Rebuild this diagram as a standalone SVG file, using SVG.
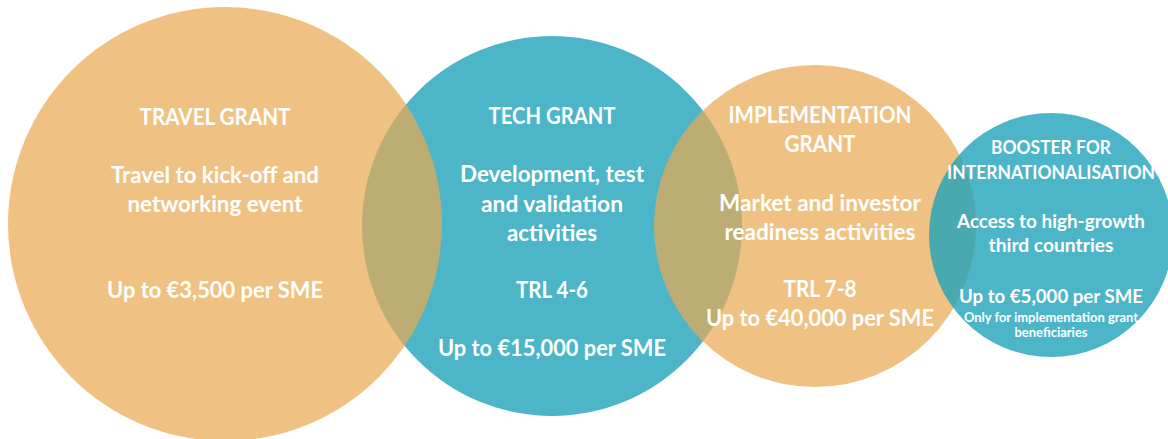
<svg xmlns="http://www.w3.org/2000/svg" width="1168" height="439" viewBox="0 0 1168 439">
<style>
.bg{fill:#FFFFFF}
.blue{fill:#4DB5C8}
.orange{fill:#E8A950;fill-opacity:0.71}
.blue2{fill:#21A3BA;fill-opacity:0.8}
text{font-family:Lato,"Open Sans","Liberation Sans",sans-serif;font-weight:bold;fill:#FFFFFF;text-anchor:middle}
.t{font-size:22px}
.s{font-size:18px}
.xs{font-size:12.5px}
</style>
<rect class="bg" x="0" y="0" width="1168" height="439"/>
<g id="connectors"></g>
<g id="tech-grant">
<circle class="blue" cx="552" cy="226" r="190"/>
<text class="t" x="552" y="124" textLength="127" lengthAdjust="spacingAndGlyphs">TECH GRANT</text>
<text class="t" x="552" y="182" textLength="184" lengthAdjust="spacingAndGlyphs">Development, test</text>
<text class="t" x="552" y="212" textLength="142" lengthAdjust="spacingAndGlyphs">and validation</text>
<text class="t" x="552" y="241" textLength="90" lengthAdjust="spacingAndGlyphs">activities</text>
<text class="t" x="552" y="298" textLength="72" lengthAdjust="spacingAndGlyphs">TRL 4-6</text>
<text class="t" x="552" y="356" textLength="228" lengthAdjust="spacingAndGlyphs">Up to €15,000 per SME</text>
</g>
<g id="travel-grant">
<circle class="orange" cx="225" cy="224" r="217"/>
<text class="t" x="215" y="125" textLength="151" lengthAdjust="spacingAndGlyphs">TRAVEL GRANT</text>
<text class="t" x="215" y="183" textLength="208" lengthAdjust="spacingAndGlyphs">Travel to kick-off and</text>
<text class="t" x="215" y="212" textLength="175" lengthAdjust="spacingAndGlyphs">networking event</text>
<text class="t" x="215" y="298" textLength="216" lengthAdjust="spacingAndGlyphs">Up to €3,500 per SME</text>
</g>
<g id="implementation-grant">
<circle class="orange" cx="815" cy="226" r="161"/>
<text class="t" x="820" y="123" textLength="183" lengthAdjust="spacingAndGlyphs">IMPLEMENTATION</text>
<text class="t" x="820" y="152" textLength="71" lengthAdjust="spacingAndGlyphs">GRANT</text>
<text class="t" x="820" y="211" textLength="202" lengthAdjust="spacingAndGlyphs">Market and investor</text>
<text class="t" x="820" y="240" textLength="191" lengthAdjust="spacingAndGlyphs">readiness activities</text>
<text class="t" x="820" y="297" textLength="73" lengthAdjust="spacingAndGlyphs">TRL 7-8</text>
<text class="t" x="820" y="326" textLength="228" lengthAdjust="spacingAndGlyphs">Up to €40,000 per SME</text>
</g>
<g id="booster-for-internationalisation">
<circle class="blue2" cx="1051" cy="235" r="122"/>
<text class="s" x="1051" y="154" textLength="120" lengthAdjust="spacingAndGlyphs">BOOSTER FOR</text>
<text class="s" x="1051" y="179" textLength="208" lengthAdjust="spacingAndGlyphs">INTERNATIONALISATION</text>
<text class="s" x="1051" y="228" textLength="188" lengthAdjust="spacingAndGlyphs">Access to high-growth</text>
<text class="s" x="1051" y="252" textLength="125" lengthAdjust="spacingAndGlyphs">third countries</text>
<text class="s" x="1051" y="303" textLength="184" lengthAdjust="spacingAndGlyphs">Up to €5,000 per SME</text>
<text class="xs" x="1051" y="322" textLength="174" lengthAdjust="spacingAndGlyphs">Only for implementation grant</text>
<text class="xs" x="1051" y="337" textLength="73" lengthAdjust="spacingAndGlyphs">beneficiaries</text>
</g>
</svg>
